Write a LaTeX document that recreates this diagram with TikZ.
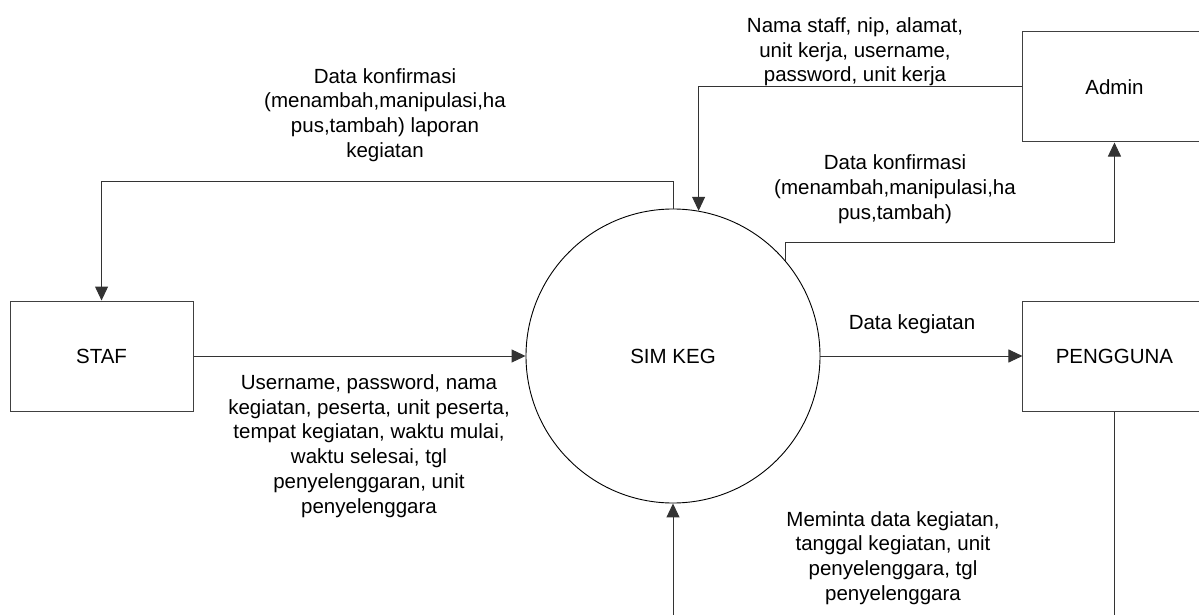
\documentclass[tikz,border=0pt]{standalone}
\usepackage{fontspec}
\setmainfont{Liberation Sans}
\usepackage{tikz}
\usetikzlibrary{arrows.meta,positioning}

\begin{document}
\begin{tikzpicture}
	[ x=1pt, y=1pt,
		font=\fontsize{20.5}{24.7}\selectfont,
		entity/.style={rectangle,draw=black!75,line width=1pt,minimum width=183pt,minimum height=110pt,inner sep=0pt},
		process/.style={circle,draw=black,line width=0.9pt,minimum size=294pt,inner sep=0pt},
		flowLabel/.style={align=center,inner sep=0pt},
		arrowOut/.style={-{Triangle[length=14pt,width=13pt]},draw=black!80,line width=1pt}]

	\useasboundingbox (0,0) rectangle (1199,-615);

	\node[process] (sim keg) at (673,-356) {SIM KEG};
	\node[entity] (staf) [left=332pt of sim keg] {STAF};
	\node[entity] (pengguna) [right=202pt of sim keg] {PENGGUNA};
	\node[entity] (admin) [above=158pt of pengguna] {Admin};

	\draw[arrowOut] (staf) -- (sim keg);
	\draw[arrowOut] (sim keg) -- (pengguna);
	\draw[arrowOut] (sim keg.north) -- ++(0,27) -| (staf.north);
	\draw[arrowOut] (admin.west) -| (sim keg.80.2);
	\draw[arrowOut] (sim keg.40.4) |- ([yshift=-100pt]admin.south) -- (admin.south);
	\draw[arrowOut] (pengguna.south) -- ++(0,-215) -| (sim keg.south);

	\node[flowLabel] (lbl staf out) at (385,-115) {Data konfirmasi\\(menambah,manipulasi,ha\\pus,tambah) laporan\\kegiatan};
	\node[flowLabel] (lbl admin in) at (855,-52) {Nama staff, nip, alamat,\\unit kerja, username,\\password, unit kerja};
	\node[flowLabel] (lbl admin out) at (895,-189) {Data konfirmasi\\(menambah,manipulasi,ha\\pus,tambah)};
	\node[flowLabel] (lbl pengguna out) at (912,-324) {Data kegiatan};
	\node[flowLabel] (lbl staf in) at (369,-446) {Username, password, nama\\kegiatan, peserta, unit peserta,\\tempat kegiatan, waktu mulai,\\waktu selesai, tgl\\penyelenggaran, unit\\penyelenggara};
	\node[flowLabel] (lbl pengguna in) at (893,-558) {Meminta data kegiatan,\\tanggal kegiatan, unit\\penyelenggara, tgl\\penyelenggara};
\end{tikzpicture}
\end{document}
